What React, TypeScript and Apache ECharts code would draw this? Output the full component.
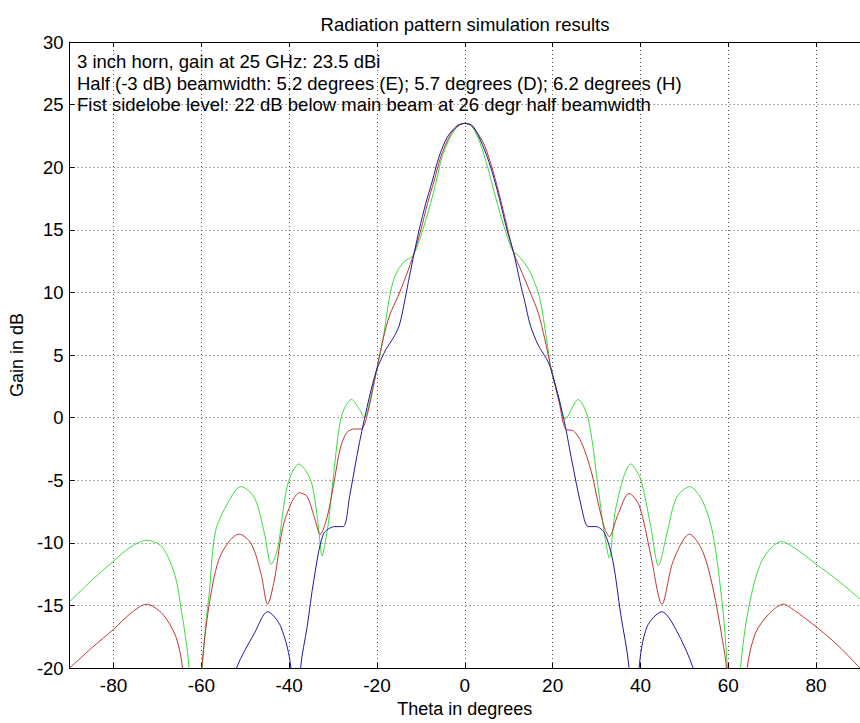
import React, { useEffect, useRef } from "react";
import * as echarts from "echarts";

const titleText = "Radiation pattern simulation results";
const xAxisName = "Theta in degrees";
const yAxisName = "Gain in dB";
const annotationLines = [
  "3 inch horn, gain at 25 GHz: 23.5 dBi",
  "Half (-3 dB) beamwidth: 5.2 degrees (E); 5.7 degrees (D); 6.2 degrees (H)",
  "Fist sidelobe level: 22 dB below main beam at 26 degr half beamwidth",
];
const xTicks = [-80, -60, -40, -20, 0, 20, 40, 60, 80];

// Green curve (E)
const thetaE = [
  -90, -85, -80, -76, -72.5, -69, -66, -64.5, -63.5, -62.8, -61.3, -59.8, -59, -58.2, -56.8, -53.8, -51,
  -47.9, -45.6, -44.1, -42.6, -40.4, -37.8, -35.2, -34, -33.2, -32.5, -31.8, -31, -29.9, -28.1, -25.8,
  -24, -22.8, -21.5, -19.8, -18.6, -17.5, -16.4, -15.2, -13.7, -11.9, -10.8, -9.3, -7.8, -6.3, -5.2,
  -3.3, -1.5, 0, 1.5, 3.3, 5.2, 7.0, 8.9, 10.8, 12.3, 14.1, 15.6, 17.1, 18.6, 19.7, 21.5, 22.9, 25.8,
  28.1, 30.3, 31.8, 32.9, 34.4, 37.8, 40, 42.3, 44.1, 46, 48.2, 51.2, 54.2, 56.5, 58.7, 59.8, 61.3,
  62.8, 64.7, 67.7, 72.1, 75.1, 80, 85, 90,
];
const gainE = [
  -14.7, -13.0, -11.45, -10.3, -9.8, -10.3, -12.6, -15.5, -17.8, -20, -30, -20, -16.5, -14.0, -9.1, -6.7, -5.5,
  -6.4, -9.3, -11.7, -10.4, -5.4, -3.7, -4.9, -6.9, -9.2, -11.05, -10.0, -8.2, -4.6, 0.1, 1.45,
  0.66, 0, 1.6, 4.2, 6.3, 8.9, 10.8, 11.8, 12.5, 12.9, 13.7, 15.3, 17.1, 19.2, 20.8,
  22.4, 23.3, 23.5, 23.3, 22.1, 20.0, 17.6, 15.3, 13.4, 12.9, 12.1, 11.05, 9.5, 6.3, 3.8, 1.5, -0.1, 1.45,
  -0.1, -5.4, -9.3, -11.2, -7.2, -3.7, -4.9, -8.6, -11.8, -9.3, -6.4, -5.5, -6.7, -9.3, -15.1, -20, -30,
  -20, -15.1, -11.4, -9.9, -10.4, -11.7, -13.0, -14.5,
];

// Red curve (D)
const thetaD = [
  -90, -85, -80, -76, -72.5, -68.8, -65.8, -64.3, -62, -59.8, -58.3, -56.1, -53.5, -51.4, -48.6, -46.4,
  -44.9, -43.4, -41.1, -37.6, -35.9, -34.4, -32.9, -31.4, -29.9, -28.4, -26.9, -25.1, -23.6, -22.1,
  -20.1, -18.6, -17.1, -15.2, -13.4, -11.5, -10.0, -8.5, -7.0, -5.5, -3.3, -1.5, 0, 1.5, 4.0, 5.9, 7.8,
  9.6, 11.1, 13.0, 14.9, 16.7, 18.2, 19.7, 21.5, 22.9, 24.7, 26.6, 28.8, 30.3, 31.8, 32.9, 34.8, 37.4,
  39.7, 42.3, 44.9, 47.5, 51.2, 54.2, 56.5, 58.7, 59.6, 62, 64.3, 66.2, 69.2, 72.5, 75.1, 80, 85, 90,
];
const gainD = [
  -20, -18.4, -16.9, -15.6, -14.9, -15.7, -17.5, -20, -30, -19.6, -15.1, -11.4, -9.8, -9.3, -10.1, -12.5,
  -14.9, -13.0, -8.3, -6.0, -6.3, -7.8, -9.3, -8.0, -5.4, -2.5, -1.2, -0.9, -0.9, 0.4,
  3.8, 6.3, 8.2, 9.7, 11.3, 13.2, 15.0, 17.1, 18.9, 20.8, 22.6, 23.3, 23.5, 23.3, 22.1, 20.3, 17.9,
  15.3, 13.2, 11.6, 10.0, 8.4, 6.3, 3.8, 1.2, -0.9, -1.05, -2.0, -4.3, -6.7, -8.8, -9.5, -7.8, -6.05,
  -7.0, -10.9, -14.9, -11.4, -9.3, -10.7, -13.6, -17.8, -20, -30, -20, -17.2, -15.7, -14.9, -15.4, -16.7, -18.2, -20.0,
];

// Blue curve (H)
const thetaH = [
  -53, -52, -47.9, -44.9, -41.9, -39.6, -38.5, -37.4, -35.9, -34.4, -32.2, -29.6, -27.7, -26.2, -24,
  -21.7, -20.1, -19.0, -17.9, -16.4, -14.9, -13.6, -12.6, -11.5, -10.4, -8.9, -7.4, -5.9, -4.0, -1.8,
  0, 1.8, 4.0, 5.9, 7.8, 9.6, 11.1, 12.6, 13.7, 14.9, 16.7, 18.6, 19.7, 21.5, 22.9, 24.3, 26.6, 28.1,
  29.9, 31.8, 33.7, 35.5, 37.4, 38.5, 39.7, 41.5, 44.9, 48.2, 52, 53,
];
const gainH = [
  -22, -20, -17.2, -15.5, -16.7, -20, -30, -20, -16.7, -13.0, -9.3, -8.7, -8.7, -6.2, -2.0,
  1.7, 3.8, 4.7, 5.5, 6.3, 7.4, 9.5, 11.3, 13.2, 15.0, 17.1, 18.9, 20.8, 22.4, 23.3,
  23.5, 23.3, 21.8, 20.0, 17.6, 15.0, 13.2, 10.8, 9.2, 7.4, 5.8, 4.7, 3.8, 1.4, -0.7, -3.3, -7.2, -8.7,
  -8.7, -9.2, -11.4, -15.7, -20, -30, -20, -16.7, -15.5, -17.0, -20, -22,
];

const FONT = "'Liberation Sans', Arial, sans-serif";

export default function App() {
  const ref = useRef<HTMLDivElement>(null);
  useEffect(() => {
    if (!ref.current) return;
    const chart = echarts.init(ref.current, null, { renderer: "svg" });
    const pair = (t: number[], g: number[]) => t.map((v, i) => [v, g[i]]);
    const gridLine = { show: true, lineStyle: { color: "#555", type: [1, 3] as any, width: 1 } };
    const axisLine = { show: true, onZero: false, lineStyle: { color: "#000", width: 1 } };
    const tick = { show: true, inside: true, length: 5, lineStyle: { color: "#000" } };
    chart.setOption({
      animation: false,
      backgroundColor: "#fff",
      title: {
        text: titleText,
        left: 460,
        top: 10,
        textAlign: "center",
        textStyle: { fontFamily: FONT, fontSize: 18.5, fontWeight: "normal", color: "#000" },
      },
      grid: { left: 66, right: -10, top: 42, bottom: 48, containLabel: false },
      xAxis: [
        {
          type: "value",
          min: -90,
          max: 90,
          position: "bottom",
          name: xAxisName,
          nameLocation: "middle",
          nameGap: 28,
          nameTextStyle: { fontFamily: FONT, fontSize: 18, color: "#000" },
          axisLine,
          axisTick: { ...tick, customValues: xTicks },
          axisLabel: { customValues: xTicks, fontFamily: FONT, fontSize: 19, color: "#000", margin: 8 },
          splitLine: gridLine,
        },
        {
          type: "value",
          min: -90,
          max: 90,
          position: "top",
          axisLine,
          axisTick: { ...tick, customValues: xTicks },
          axisLabel: { show: false },
          splitLine: { show: false },
        },
      ],
      yAxis: {
        type: "value",
        min: -20,
        max: 30,
        interval: 5,
        name: yAxisName,
        nameLocation: "middle",
        nameGap: 38,
        nameTextStyle: { fontFamily: FONT, fontSize: 18, color: "#000" },
        axisLine,
        axisTick: tick,
        axisLabel: { fontFamily: FONT, fontSize: 18.5, color: "#000", margin: 6 },
        splitLine: gridLine,
      },
      graphic: annotationLines.map((t, i) => ({
        type: "text",
        x: 77,
        y: 61.5 + i * 21.7,
        z: 10,
        style: { text: t, fontFamily: FONT, fontSize: 18.5, fill: "#000", verticalAlign: "middle" },
      })),
      series: [
        { name: "E", type: "line", data: pair(thetaE, gainE), showSymbol: false, smooth: 0.3, lineStyle: { color: "#3cdc3c", width: 1 }, itemStyle: { color: "#3cdc3c" } },
        { name: "D", type: "line", data: pair(thetaD, gainD), showSymbol: false, smooth: 0.3, lineStyle: { color: "#c03535", width: 1 }, itemStyle: { color: "#c03535" } },
        { name: "H", type: "line", data: pair(thetaH, gainH), showSymbol: false, smooth: 0.3, lineStyle: { color: "#1c1c9c", width: 1 }, itemStyle: { color: "#1c1c9c" } },
      ],
    });
    return () => chart.dispose();
  }, []);
  return <div ref={ref} style={{ position: "absolute", left: 0, top: 0, width: 860, height: 723 }} />;
}
